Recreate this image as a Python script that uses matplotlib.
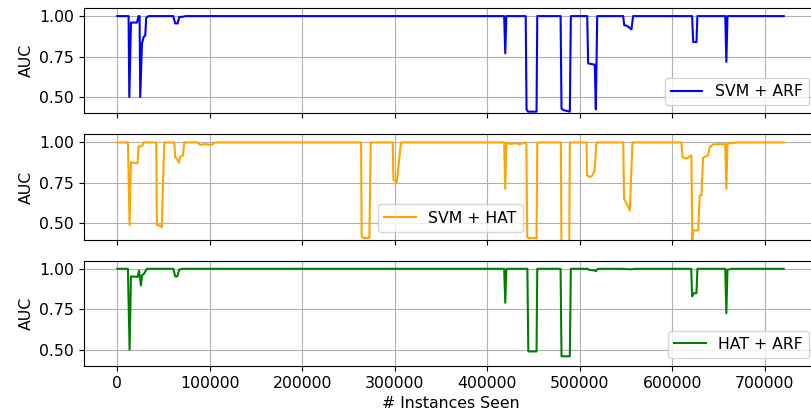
import numpy as np
import matplotlib
matplotlib.use("Agg")
import matplotlib.pyplot as plt

# SVM + ARF
svm_arf_x = [0, 12200, 13000, 14800, 21300, 23000, 24100, 24800, 26700, 28400,
             30200, 31300, 33800, 60500, 62600, 65300, 67000, 70000, 74000, 418200,
             419400, 420600, 441500, 442400, 444000, 453200, 454000, 479200, 480200, 482000,
             489200, 490300, 508000, 509000, 516200, 517300, 518800, 546900, 548000, 551000,
             555800, 557600, 621400, 622500, 626100, 627100, 657200, 658400, 659600, 720400]
svm_arf_y = [1.0, 1.0, 0.50, 0.96, 0.96, 1.0, 1.0, 0.50, 0.83, 0.87,
             0.88, 0.99, 1.0, 1.0, 0.955, 0.955, 0.995, 0.995, 1.0, 1.0,
             0.77, 1.0, 1.0, 0.424, 0.41, 0.41, 1.0, 1.0, 0.43, 0.42,
             0.41, 1.0, 1.0, 0.708, 0.70, 0.424, 1.0, 1.0, 0.944, 0.94,
             0.918, 1.0, 1.0, 0.84, 0.84, 1.0, 1.0, 0.718, 1.0, 1.0]

# SVM + HAT
svm_hat_x = [0, 11500, 13300, 14800, 21900, 23000, 24100, 27000, 28500, 30200,
             42100, 42800, 45000, 48200, 49300, 50800, 61600, 62600, 64500, 66600,
             68000, 71000, 72400, 86400, 90000, 95000, 100000, 103700, 104800, 263500,
             264200, 266000, 272500, 274000, 297700, 298500, 302000, 306700, 418200, 419400,
             420600, 425000, 430000, 435000, 442200, 443200, 444500, 453200, 454000, 479500,
             480200, 488500, 489200, 507200, 507900, 511600, 514000, 516000, 518000, 546900,
             547800, 550000, 554000, 556900, 609800, 611000, 615000, 620600, 621600, 622500,
             625000, 627900, 629600, 631500, 633200, 638600, 640400, 644000, 657200, 658400,
             659600, 665000, 670000, 720400]
svm_hat_y = [1.0, 1.0, 0.49, 0.878, 0.87, 0.975, 0.975, 0.98, 1.0, 1.0,
             1.0, 0.49, 0.49, 0.477, 0.724, 1.0, 1.0, 0.91, 0.90, 0.875,
             0.91, 0.92, 1.0, 1.0, 0.985, 0.99, 0.985, 0.99, 1.0, 1.0,
             0.42, 0.41, 0.41, 1.0, 1.0, 0.77, 0.75, 1.0, 1.0, 0.714,
             1.0, 0.99, 0.995, 0.99, 1.0, 0.415, 0.41, 0.41, 1.0, 1.0,
             0.3, 0.3, 1.0, 1.0, 0.796, 0.786, 0.80, 0.827, 1.0, 1.0,
             0.652, 0.63, 0.58, 1.0, 1.0, 0.91, 0.90, 0.92, 0.40, 0.457,
             0.457, 0.457, 0.673, 0.673, 0.905, 0.92, 0.97, 0.988, 0.99, 0.714,
             0.995, 0.995, 1.0, 1.0]

# HAT + ARF
hat_arf_x = [0, 11500, 13300, 14800, 21900, 23500, 25600, 26700, 29000, 32000,
             60500, 62600, 64800, 67000, 70000, 418200, 419400, 420600, 443300, 444300,
             453200, 454000, 479200, 480200, 489200, 490300, 508700, 510000, 516000, 517300,
             518400, 520000, 545000, 555000, 560000, 620400, 621400, 623500, 626100, 627100,
             657200, 658400, 659600, 665000, 720400]
hat_arf_y = [1.0, 1.0, 0.5, 0.953, 0.95, 0.988, 0.897, 0.96, 0.97, 1.0,
             1.0, 0.953, 0.953, 0.995, 1.0, 1.0, 0.79, 1.0, 1.0, 0.49,
             0.49, 1.0, 1.0, 0.46, 0.46, 1.0, 1.0, 0.993, 0.99, 0.985,
             0.995, 1.0, 1.0, 0.997, 1.0, 1.0, 0.83, 0.85, 0.85, 1.0,
             1.0, 0.726, 0.995, 1.0, 1.0]

series = [(svm_arf_x, svm_arf_y, 'blue', 'SVM + ARF', 'lower right'),
          (svm_hat_x, svm_hat_y, 'orange', 'SVM + HAT', 'lower center'),
          (hat_arf_x, hat_arf_y, 'green', 'HAT + ARF', 'lower right')]

plt.rcParams['font.size'] = 11.3
fig, axes = plt.subplots(3, 1, sharex=True, figsize=(8.12, 4.19), dpi=100)
fig.subplots_adjust(left=0.1034, right=1.0062, top=0.9809, bottom=0.1265, hspace=0.2)

for ax, (x, y, c, lab, loc) in zip(axes, series):
    ax.plot(np.array(x), np.array(y), color=c, linewidth=1.5, label=lab)
    ax.set_ylim(0.4, 1.05)
    ax.set_yticks([0.5, 0.75, 1.0])
    ax.set_ylabel('AUC')
    ax.grid(True)
    ax.legend(loc=loc)

axes[-1].set_xlabel('# Instances Seen')
fig.savefig('out.png', dpi=100)
